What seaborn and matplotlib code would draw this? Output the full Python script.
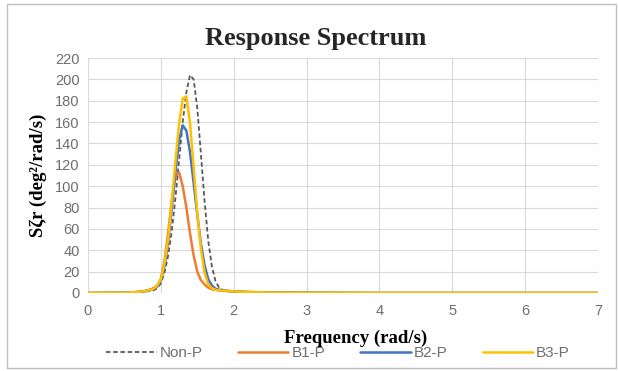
import matplotlib
matplotlib.use("Agg")
import matplotlib.pyplot as plt
import seaborn as sns
import pandas as pd
from matplotlib.patches import Rectangle

freq = [0.0, 0.5, 0.7, 0.8, 0.85, 0.9, 0.95, 1.0, 1.05, 1.1, 1.15, 1.2, 1.25, 1.3,
        1.35, 1.4, 1.45, 1.5, 1.55, 1.6, 1.65, 1.7, 1.75, 1.8, 1.85, 1.9, 2.0,
        2.2, 2.5, 3.0, 4.0, 5.0, 6.0, 7.0]
non_p = [0, 0.2, 1, 1.5, 2, 2.5, 4.5, 9, 19, 35, 58, 89, 124, 160,
         188, 204, 200, 173, 130, 86, 49, 25, 11, 5, 3, 2, 1.5,
         0.8, 0.4, 0.2, 0, 0, 0, 0]
b1_p = [0, 0.3, 1, 2, 3, 4.5, 7, 13, 30, 56, 87, 109, 113, 100,
        80, 56, 35, 20, 12, 8, 5, 3.5, 3, 2.5, 2.2, 2, 1.5,
        1, 0.5, 0.2, 0, 0, 0, 0]
b2_p = [0, 0.2, 1, 2, 3, 4, 6, 12, 25, 48, 79, 113, 143, 157,
        152, 132, 103, 73, 46, 26, 13, 7, 4, 3, 2.5, 2, 1.5,
        0.8, 0.4, 0.2, 0, 0, 0, 0]
b3_p = [0, 0.2, 1, 2, 3, 4, 7, 13, 28, 51, 85, 123, 158, 182,
        184, 159, 118, 75, 41, 19, 8, 4.5, 3, 2.5, 2.2, 2, 1.5,
        0.8, 0.4, 0.2, 0, 0, 0, 0]

series_names = ["Non-P", "B1-P", "B2-P", "B3-P"]
series_vals = [non_p, b1_p, b2_p, b3_p]
colors = ["#595959", "#ED7D31", "#4472C4", "#FFC000"]

sns.set_style("white")
plt.rcParams["font.family"] = ["Liberation Sans", "DejaVu Sans"]

fig = plt.figure(figsize=(6.18, 3.71), dpi=100)
ax = fig.add_axes([88/618, 1-293/371, 510/618, 235/371])

for name, vals, c in zip(series_names, series_vals, colors):
    df = pd.DataFrame({"Frequency": freq, "S": vals})
    ls = (0, (2.5, 1.5)) if name == "Non-P" else "-"
    lw = 1.3 if name == "Non-P" else 1.8
    sns.lineplot(data=df, x="Frequency", y="S", ax=ax, color=c, linewidth=lw,
                 linestyle=ls, label=name, legend=False)

ax.set_xlim(0, 7)
ax.set_ylim(0, 220)
ax.set_xticks(range(0, 8))
ax.set_yticks(range(0, 221, 20))
ax.grid(True, color="#D9D9D9", linewidth=0.8)
ax.set_axisbelow(True)
for s in ax.spines.values():
    s.set_visible(False)
ax.tick_params(axis="both", length=0, labelsize=10.5, labelcolor="#6E6E6E")
ax.tick_params(axis="x", pad=8)
ax.tick_params(axis="y", pad=6)

ax.set_xlabel("Frequency (rad/s)", family="Liberation Serif", fontweight="bold",
              fontsize=13.5, color="black")
ax.xaxis.set_label_coords((356-88)/510, (293-330)/235)
ax.set_ylabel("Sζr (deg²/rad/s)", family="Liberation Serif", fontweight="bold",
              fontsize=13.5, color="black", labelpad=6)
fig.text(316/618, 1-38/371, "Response Spectrum", family="Liberation Serif",
         fontweight="bold", fontsize=19, ha="center", va="center")

handles, labels = ax.get_legend_handles_labels()
leg = fig.legend(handles, labels, loc="center", bbox_to_anchor=(338/618, 1-353/371),
                 ncol=4, frameon=False, fontsize=11, handlelength=3.3,
                 columnspacing=2.3, handletextpad=0.2, labelcolor="#6E6E6E")

fig.patches.append(Rectangle((7/618, 3/371), 609/618, 364/371, transform=fig.transFigure,
                             fill=False, edgecolor="#BFBFBF", linewidth=1))

fig.savefig("out.png", dpi=100)
